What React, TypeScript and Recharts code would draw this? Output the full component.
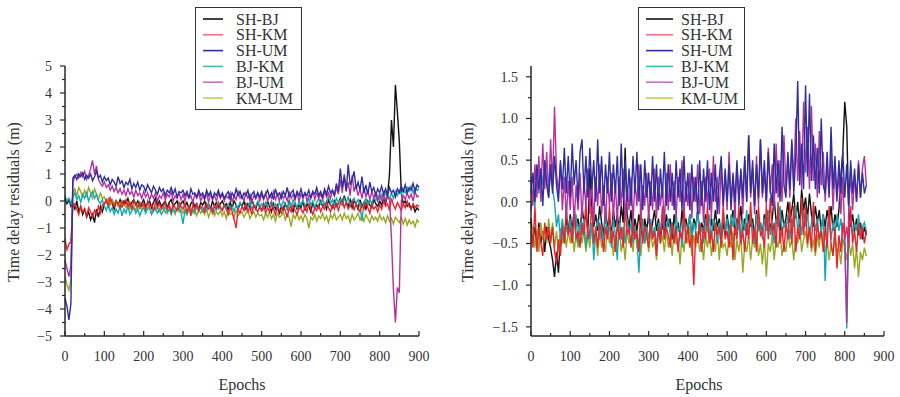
import { LineChart, Line, XAxis, YAxis } from "recharts"

// series names, legend order
const SERIES = ["SH-BJ", "SH-KM", "SH-UM", "BJ-KM", "BJ-UM", "KM-UM"]
const LINE_COLORS = ["#111111", "#e8242c", "#2e2e9e", "#14a8b4", "#b4329e", "#98a824"]
const LEGEND_COLORS = ["#111111", "#f07585", "#2e2e9e", "#3cc0b0", "#c070c0", "#c0d050"]
const DRAW_ORDER = ["SH-BJ", "KM-UM", "BJ-KM", "SH-KM", "BJ-UM", "SH-UM"]

const X_TICKS = [0, 50, 100, 150, 200, 250, 300, 350, 400, 450, 500, 550, 600, 650, 700, 750, 800, 850, 900]
const LEFT_Y_TICKS = [-5, -4.5, -4, -3.5, -3, -2.5, -2, -1.5, -1, -0.5, 0, 0.5, 1, 1.5, 2, 2.5, 3, 3.5, 4, 4.5, 5]
const RIGHT_Y_TICKS = [-1.5, -1.25, -1, -0.75, -0.5, -0.25, 0, 0.25, 0.5, 0.75, 1, 1.25, 1.5]

// left panel: one value every 5 epochs, 10 per line (50 epochs), 0..900
const L_SHBJ = [
  0.1, -0.1, 0.05, -0.2, -0.1, -0.3, 0.0, -0.4, -0.2, -0.5,
  -0.3, -0.6, -0.4, -0.7, -0.5, -0.8, -0.3, -0.6, -0.2, -0.4,
  -0.1, 0.0, -0.2, 0.1, -0.1, -0.3, 0.0, -0.15, 0.05, -0.2,
  0.0, -0.1, 0.1, -0.2, -0.05, 0.05, -0.15, 0.0, -0.25, -0.1,
  0.05, -0.2, -0.1, 0.0, -0.25, -0.05, 0.1, -0.15, 0.0, -0.2,
  -0.1, 0.0, -0.25, -0.05, 0.05, -0.2, -0.1, 0.0, -0.3, -0.1,
  0.0, -0.2, -0.05, -0.3, -0.1, 0.0, -0.2, -0.1, -0.35, -0.05,
  -0.15, 0.0, -0.25, -0.1, -0.3, 0.0, -0.2, -0.05, -0.25, -0.1,
  0.0, -0.2, -0.1, -0.35, -0.05, -0.25, 0.0, -0.15, -0.3, -0.1,
  -0.2, 0.0, -0.3, -0.1, -0.25, 0.05, -0.15, -0.3, -0.05, -0.2,
  -0.35, -0.1, -0.25, 0.0, -0.2, -0.4, -0.1, -0.3, -0.15, -0.45,
  -0.2, -0.35, -0.1, -0.3, 0.0, -0.25, -0.4, -0.1, -0.3, -0.15,
  -0.25, 0.0, -0.35, -0.1, -0.2, -0.4, -0.05, -0.3, -0.15, -0.25,
  0.0, -0.2, -0.1, -0.3, 0.05, -0.15, -0.25, 0.0, -0.2, -0.1,
  0.1, -0.15, 0.2, -0.05, -0.2, 0.05, -0.25, 0.0, -0.1, -0.3,
  0.05, -0.2, -0.05, -0.3, 0.0, -0.15, -0.25, 0.05, -0.1, -0.2,
  0.0, -0.15, 0.1, -0.1, 0.2, 1.0, 3.0, 2.0, 4.3, 3.3,
  2.2, 0.3, -0.1, 0.0, -0.2, -0.1, -0.3, -0.15, -0.4, -0.25,
  -0.35,
]
const L_SHKM = [
  -1.4, -1.8, -1.6, -1.5, -0.2, -0.1, -0.3, -0.5, -0.2, -0.4,
  -0.3, -0.55, -0.25, -0.4, -0.6, -0.35, -0.5, -0.2, -0.45, -0.15,
  -0.1, 0.05, -0.15, 0.1, -0.05, -0.2, 0.0, -0.1, -0.25, 0.0,
  -0.15, 0.05, -0.2, -0.05, -0.3, 0.0, -0.1, -0.25, -0.05, -0.2,
  -0.1, -0.3, 0.0, -0.2, -0.15, -0.35, -0.05, -0.25, -0.1, -0.3,
  -0.2, -0.05, -0.3, -0.15, -0.4, -0.1, -0.25, -0.35, -0.05, -0.2,
  -0.3, -0.1, -0.4, -0.2, -0.55, -0.15, -0.3, -0.1, -0.35, -0.2,
  -0.25, -0.4, -0.1, -0.3, -0.2, -0.45, -0.15, -0.3, -0.05, -0.25,
  -0.35, -0.15, -0.3, -0.5, -0.2, -0.4, -0.7, -1.0, -0.3, -0.45,
  -0.2, -0.35, -0.1, -0.4, -0.25, -0.5, -0.15, -0.3, -0.4, -0.2,
  -0.35, -0.15, -0.45, -0.25, -0.4, -0.1, -0.3, -0.5, -0.2, -0.35,
  -0.45, -0.2, -0.35, -0.6, -0.25, -0.4, -0.15, -0.35, -0.5, -0.25,
  -0.3, -0.45, -0.2, -0.4, -0.1, -0.3, -0.5, -0.25, -0.35, -0.15,
  -0.4, -0.2, -0.3, -0.05, -0.25, -0.4, -0.15, -0.3, -0.1, -0.35,
  -0.1, 0.05, -0.25, -0.05, -0.3, -0.15, 0.0, -0.35, -0.1, -0.25,
  -0.4, -0.15, -0.3, -0.05, -0.25, -0.45, -0.1, -0.3, -0.2, -0.4,
  -0.15, -0.3, 0.0, -0.2, -0.1, -0.35, 0.1, -0.15, -0.3, -0.05,
  -0.2, -0.35, -0.1, -0.25, 0.0, -0.2, -0.3, -0.1, -0.25, -0.15,
  -0.2,
]
const L_SHUM = [
  -3.6, -3.9, -4.4, -3.8, 0.85, 0.95, 0.8, 1.0, 0.9, 1.05,
  0.8, 0.95, 0.85, 1.0, 0.75, 0.9, 1.1, 0.85, 0.95, 0.7,
  0.9, 0.75, 0.85, 0.6, 0.8, 0.7, 0.55, 0.9, 0.65, 0.75,
  0.5, 0.7, 0.6, 0.8, 0.45, 0.65, 0.5, 0.7, 0.4, 0.6,
  0.55, 0.35, 0.6, 0.45, 0.3, 0.55, 0.4, 0.25, 0.5, 0.35,
  0.45, 0.2, 0.4, 0.3, 0.5, 0.25, 0.45, 0.15, 0.35, 0.3,
  0.4, 0.2, 0.35, 0.1, 0.45, 0.25, 0.3, 0.15, 0.4, 0.2,
  0.3, 0.1, 0.4, 0.2, 0.35, 0.05, 0.3, 0.2, 0.4, 0.15,
  0.3, 0.1, 0.25, 0.35, 0.05, 0.3, 0.15, 0.45, 0.2, 0.35,
  0.1, 0.3, 0.2, 0.4, 0.05, 0.25, 0.35, 0.1, 0.3, 0.15,
  0.35, 0.1, 0.25, 0.4, 0.15, 0.3, 0.05, 0.45, 0.2, 0.3,
  0.1, 0.35, 0.2, 0.5, 0.15, 0.3, 0.4, 0.1, 0.35, 0.2,
  0.45, 0.15, 0.3, 0.2, 0.4, 0.1, 0.35, 0.25, 0.5, 0.2,
  0.35, 0.15, 0.45, 0.25, 0.55, 0.3, 0.4, 0.2, 0.65, 0.35,
  1.2, 0.5, 0.9, 0.35, 1.35, 0.6, 0.8, 1.1, 0.45, 0.7,
  0.4, 0.9, 0.3, 0.6, 0.25, 0.7, 0.35, 0.5, 0.2, 0.45,
  0.3, 0.55, 0.25, 0.45, 0.2, 0.5, 0.3, 0.4, 0.15, 0.45,
  0.3, 0.55, 0.35, 0.6, 0.3, 0.5, 0.4, 0.65, 0.35, 0.6,
  0.5,
]
const L_BJKM = [
  0.2, 0.0, 0.1, -0.1, 0.15, 0.3, 0.05, 0.2, -0.05, 0.25,
  0.1, 0.3, 0.0, 0.2, 0.35, 0.1, 0.25, 0.0, -0.1, 0.05,
  -0.2, -0.35, -0.1, -0.4, -0.25, -0.5, -0.3, -0.45, -0.2, -0.55,
  -0.3, -0.45, -0.2, -0.5, -0.35, -0.25, -0.45, -0.3, -0.55, -0.35,
  -0.25, -0.45, -0.3, -0.2, -0.5, -0.35, -0.25, -0.45, -0.3, -0.5,
  -0.35, -0.2, -0.45, -0.3, -0.5, -0.25, -0.4, -0.3, -0.2, -0.45,
  -0.85, -0.35, -0.5, -0.25, -0.4, -0.3, -0.45, -0.2, -0.35, -0.25,
  -0.4, -0.2, -0.35, -0.1, -0.3, -0.25, -0.4, -0.15, -0.3, -0.2,
  -0.35, -0.15, -0.25, -0.1, -0.3, -0.2, -0.4, -0.15, -0.25, -0.05,
  -0.2, -0.3, -0.1, -0.25, -0.05, -0.3, -0.15, -0.2, 0.0, -0.25,
  -0.1, -0.3, -0.05, -0.2, -0.15, 0.0, -0.25, -0.1, -0.3, -0.05,
  -0.2, 0.0, -0.15, -0.3, -0.05, -0.2, 0.05, -0.1, -0.25, 0.0,
  -0.15, 0.05, -0.2, -0.05, 0.1, -0.15, 0.0, -0.25, -0.05, 0.1,
  -0.1, 0.05, -0.2, 0.0, 0.15, -0.1, 0.05, -0.15, 0.1, -0.05,
  0.05, -0.15, 0.1, -0.05, 0.15, -0.2, 0.0, 0.1, -0.1, 0.05,
  -0.1, -0.75, -0.05, 0.1, -0.15, 0.05, -0.1, 0.15, 0.0, 0.2,
  0.05, 0.25, 0.1, 0.3, 0.15, 0.05, 0.3, 0.1, 0.35, 0.2,
  0.4, 0.25, 0.45, 0.3, 0.5, 0.35, 0.55, 0.3, 0.5, 0.4,
  0.45,
]
const L_BJUM = [
  -2.2, -2.5, -2.8, -2.4, 0.7, 0.9, 1.0, 0.85, 1.05, 0.9,
  1.1, 0.8, 0.95, 1.2, 1.5, 1.0, 1.3, 0.8, 0.65, 0.55,
  0.7, 0.5, 0.6, 0.4, 0.55, 0.35, 0.5, 0.3, 0.45, 0.25,
  0.4, 0.2, 0.45, 0.25, 0.35, 0.15, 0.4, 0.2, 0.3, 0.1,
  0.35, 0.15, 0.3, 0.05, 0.25, 0.1, 0.3, 0.0, 0.2, 0.1,
  0.3, 0.05, 0.25, 0.15, 0.35, 0.0, 0.2, 0.1, 0.3, 0.05,
  0.25, 0.0, 0.3, 0.1, 0.2, -0.05, 0.25, 0.1, 0.3, 0.0,
  0.2, 0.05, 0.3, -0.05, 0.25, 0.1, 0.2, 0.0, 0.3, 0.1,
  0.25, 0.0, 0.2, 0.1, 0.3, -0.05, 0.2, 0.05, 0.35, 0.1,
  0.2, 0.0, 0.3, 0.1, 0.25, -0.05, 0.2, 0.1, 0.3, 0.0,
  0.25, 0.05, 0.3, 0.0, 0.2, 0.1, 0.35, 0.05, 0.25, 0.0,
  0.3, 0.1, 0.2, 0.0, 0.35, 0.1, 0.25, 0.05, 0.3, 0.0,
  0.25, 0.1, 0.3, 0.0, 0.2, 0.15, 0.35, 0.05, 0.3, 0.1,
  0.25, 0.05, 0.35, 0.15, 0.3, 0.1, 0.4, 0.2, 0.5, 0.25,
  0.8, 0.3, 1.0, 0.4, 0.7, 0.2, 0.95, 0.35, 0.6, 0.2,
  0.45, 0.1, 0.5, 0.15, 0.4, 0.05, 0.35, 0.1, 0.3, 0.0,
  0.25, 0.05, 0.3, 0.0, 0.2, 0.1, -1.4, -3.3, -4.5, -3.2,
  -3.4, 0.0, 0.2, 0.05, 0.3, 0.1, 0.25, 0.0, 0.35, 0.15,
  0.2,
]
const L_KMUM = [
  -2.8, -3.1, -3.3, -2.9, 0.3, 0.45, 0.2, 0.5, 0.35, 0.15,
  0.4, 0.2, 0.5, 0.3, 0.1, 0.45, 0.25, 0.05, 0.3, 0.1,
  0.15, -0.05, 0.1, -0.15, 0.05, -0.1, 0.0, -0.2, -0.05, -0.15,
  -0.1, -0.25, -0.05, -0.3, -0.15, -0.2, -0.35, -0.1, -0.25, -0.3,
  -0.15, -0.35, -0.2, -0.3, -0.45, -0.25, -0.35, -0.2, -0.4, -0.3,
  -0.25, -0.45, -0.3, -0.2, -0.4, -0.35, -0.5, -0.25, -0.4, -0.3,
  -0.45, -0.3, -0.5, -0.35, -0.25, -0.45, -0.35, -0.55, -0.3, -0.45,
  -0.35, -0.5, -0.3, -0.6, -0.4, -0.3, -0.55, -0.4, -0.5, -0.35,
  -0.55, -0.4, -0.65, -0.35, -0.5, -0.45, -0.6, -0.35, -0.55, -0.45,
  -0.4, -0.6, -0.45, -0.35, -0.65, -0.5, -0.4, -0.6, -0.45, -0.55,
  -0.5, -0.7, -0.45, -0.6, -0.4, -0.65, -0.5, -0.75, -0.45, -0.6,
  -0.55, -0.4, -0.7, -0.5, -0.6, -0.95, -0.5, -0.65, -0.45, -0.7,
  -0.55, -0.75, -0.5, -0.65, -1.0, -0.6, -0.7, -0.5, -0.75, -0.55,
  -0.65, -0.45, -0.7, -0.55, -0.8, -0.5, -0.65, -0.45, -0.7, -0.6,
  -0.5, -0.7, -0.45, -0.65, -0.55, -0.8, -0.5, -0.7, -0.6, -0.45,
  -0.7, -0.55, -0.75, -0.5, -0.65, -0.8, -0.55, -0.7, -0.6, -0.75,
  -0.5, -0.7, -0.6, -0.8, -0.55, -0.75, -0.65, -0.85, -0.6, -0.7,
  -0.8, -0.6, -0.85, -0.65, -0.9, -0.7, -0.85, -0.75, -0.95, -0.7,
  -0.8,
]

// right panel: one value every 5 epochs, 10 per line, 0..855
const R_SHBJ = [
  -0.2, -0.45, -0.3, -0.55, -0.25, -0.5, -0.35, -0.6, -0.3, -0.45,
  -0.55, -0.7, -0.9, -0.6, -0.85, -0.4, -0.25, -0.45, -0.2, -0.35,
  -0.15, -0.35, -0.1, -0.3, -0.2, -0.4, -0.05, -0.25, -0.15, -0.35,
  0.4, -0.1, -0.3, -0.15, -0.35, -0.05, -0.25, -0.4, -0.1, -0.3,
  -0.2, -0.4, -0.1, -0.3, -0.15, -0.35, -0.05, -0.25, 0.65, -0.15,
  -0.3, -0.1, -0.4, -0.2, -0.35, -0.15, -0.3, -0.45, -0.2, -0.35,
  -0.15, -0.4, -0.25, -0.1, -0.35, -0.2, -0.45, -0.25, -0.4, -0.15,
  -0.3, -0.2, -0.45, -0.15, -0.35, -0.25, -0.4, -0.1, -0.3, -0.2,
  -0.35, -0.15, -0.45, -0.2, -0.3, -0.1, -0.4, -0.25, -0.35, -0.15,
  -0.3, -0.45, -0.2, -0.35, -0.1, -0.3, -0.2, -0.45, -0.25, -0.4,
  -0.15, -0.35, -0.25, -0.1, -0.4, -0.2, -0.3, -0.05, -0.35, -0.2,
  -0.4, -0.15, -0.3, -0.2, -0.45, -0.1, -0.35, -0.25, -0.4, -0.15,
  -0.3, -0.1, -0.35, -0.2, 0.05, -0.25, -0.15, -0.35, -0.1, -0.3,
  -0.2, 0.0, -0.25, -0.1, 0.1, -0.2, 0.0, -0.3, 0.15, -0.1,
  0.05, -0.2, 0.1, -0.15, -0.3, -0.05, -0.25, -0.1, -0.35, -0.15,
  -0.3, -0.1, -0.25, -0.05, -0.35, -0.15, -0.3, -0.1, 0.3, 0.6,
  1.2, 0.9, -0.1, -0.3, -0.15, -0.35, -0.2, -0.4, -0.25, -0.45,
  -0.3, -0.4,
]
const R_SHKM = [
  -0.35, -0.55, -0.05, -0.6, -0.3, -0.5, -0.65, -0.25, -0.45, -0.3,
  -0.5, -0.3, -0.6, -0.75, -0.45, -0.65, -0.3, -0.5, -0.05, -0.4,
  -0.3, -0.5, -0.05, -0.45, -0.35, -0.55, -0.25, -0.4, 0.0, -0.45,
  -0.35, -0.05, -0.5, -0.3, -0.55, -0.25, -0.4, -0.6, -0.3, -0.45,
  -0.05, -0.5, -0.35, -0.6, -0.25, -0.45, -0.3, -0.55, -0.05, -0.4,
  -0.3, -0.55, -0.25, -0.45, -0.35, -0.6, -0.05, -0.5, -0.3, -0.4,
  -0.55, -0.25, -0.45, -0.35, -0.65, -0.3, -0.5, -0.05, -0.45, -0.3,
  -0.4, -0.55, -0.25, -0.5, -0.3, -0.6, -0.35, -0.45, -0.05, -0.5,
  -0.3, -0.55, -0.4, -1.0, -0.35, -0.5, -0.25, -0.6, -0.3, -0.45,
  -0.05, -0.5, -0.35, -0.6, -0.25, -0.4, -0.3, -0.55, -0.05, -0.45,
  -0.35, -0.55, -0.25, -0.7, -0.3, -0.45, -0.05, -0.5, -0.35, -0.6,
  -0.25, -0.45, 0.0, -0.5, -0.3, -0.6, -0.05, -0.4, -0.35, -0.55,
  -0.05, -0.45, 0.05, -0.4, -0.25, -0.55, 0.0, -0.5, -0.3, -0.6,
  -0.25, -0.45, 0.0, -0.5, -0.05, -0.6, -0.3, -0.45, 0.05, -0.4,
  -0.05, -0.5, -0.3, -0.55, 0.0, -0.6, -0.25, -0.45, -0.35, -0.6,
  -0.3, -0.55, -0.05, -0.5, -0.65, -0.3, -0.8, -0.4, -0.6, -0.25,
  -0.45, -0.3, -0.55, -0.05, -0.5, -0.35, -0.6, -0.25, -0.45, -0.3,
  -0.5, -0.35,
]
const R_SHUM = [
  0.1, 0.35, 0.0, 0.45, 0.15, 0.4, -0.05, 0.5, 0.2, 0.05,
  0.45, 0.1, 0.55, 0.2, 0.0, 0.5, 0.15, 0.65, 0.1, 0.55,
  0.05, 0.7, 0.2, 0.5, 0.0, 0.6, 0.75, 0.1, 0.55, 0.05,
  0.65, 0.15, 0.5, 0.0, 0.75, 0.1, 0.55, -0.05, 0.45, 0.1,
  0.6, 0.0, 0.45, 0.1, 0.55, -0.05, 0.7, 0.05, 0.5, 0.0,
  0.4, -0.05, 0.55, 0.1, 0.6, 0.0, 0.45, -0.1, 0.5, 0.05,
  0.35, -0.05, 0.55, 0.0, 0.45, -0.1, 0.4, 0.05, 0.6, -0.05,
  0.45, 0.0, 0.35, -0.1, 0.5, 0.05, 0.4, -0.1, 0.55, 0.0,
  0.35, -0.1, 0.45, 0.0, 0.3, -0.15, 0.5, -0.05, 0.4, 0.0,
  0.5, -0.1, 0.35, 0.0, 0.45, -0.15, 0.3, 0.55, -0.05, 0.4,
  0.0, 0.45, -0.1, 0.35, 0.0, 0.5, -0.05, 0.4, 0.05, 0.55,
  0.0, 0.8, 0.1, 0.5, -0.05, 0.45, 0.05, 0.75, 0.1, 0.5,
  0.0, 0.6, 0.15, -0.05, 0.7, 0.1, 0.5, 0.0, 0.9, 0.2,
  0.05, 0.6, 0.15, 0.75, 0.1, 0.55, 1.45, 0.2, 0.7, 0.15,
  1.4, 0.3, 1.3, 0.25, 0.8, 0.15, 0.65, 0.1, 1.0, 0.2,
  0.1, 0.6, 0.05, 0.9, 0.15, 0.55, 0.0, 0.5, 0.1, 0.6,
  0.05, 0.45, -0.05, 0.5, 0.1, 0.4, 0.0, 0.45, 0.05, 0.35,
  0.1, 0.2,
]
const R_BJKM = [
  -0.1, 0.15, -0.05, 0.3, 0.1, 0.4, 0.2, 0.45, 0.25, 0.1,
  0.35, 0.15, 0.0, -0.3, -0.15, -0.45, -0.2, -0.5, -0.3, -0.4,
  -0.2, -0.45, -0.3, -0.15, -0.5, -0.25, -0.4, -0.2, -0.55, -0.3,
  -0.45, -0.25, -0.7, -0.35, -0.2, -0.45, -0.3, -0.5, -0.15, -0.4,
  -0.3, -0.55, -0.2, -0.4, -0.7, -0.25, -0.45, -0.3, -0.5, -0.2,
  -0.4, -0.25, -0.5, -0.3, -0.45, -0.85, -0.35, -0.2, -0.5, -0.3,
  -0.45, -0.2, -0.4, -0.3, -0.55, -0.25, -0.35, -0.15, -0.45, -0.3,
  -0.2, -0.4, -0.25, -0.5, -0.15, -0.35, -0.3, -0.55, -0.2, -0.4,
  -0.3, -0.15, -0.45, -0.25, -0.35, -0.1, -0.4, -0.3, -0.5, -0.2,
  -0.35, -0.15, -0.45, -0.2, -0.3, -0.5, -0.25, -0.4, -0.1, -0.35,
  -0.2, -0.45, -0.15, -0.3, -0.05, -0.4, -0.25, -0.5, -0.2, -0.35,
  -0.1, -0.4, -0.2, -0.3, -0.5, -0.15, -0.35, -0.25, -0.45, -0.2,
  -0.35, -0.1, -0.4, -0.25, -0.5, -0.2, -0.3, -0.05, -0.4, -0.25,
  -0.35, -0.15, -0.45, -0.2, -0.3, -0.05, -0.35, -0.2, -0.4, -0.1,
  -0.3, -0.15, -0.4, -0.25, -0.1, -0.35, -0.2, -0.45, -0.3, -0.15,
  -0.95, -0.3, -0.2, -0.45, -0.25, -0.4, -0.15, -0.35, -0.2, -0.45,
  -0.5, -1.52, -0.3, -0.2, -0.4, -0.25, -0.35, -0.15, -0.4, -0.3,
  -0.25, -0.35,
]
const R_BJUM = [
  0.3, -0.05, 0.45, 0.05, 0.55, 0.0, 0.7, 0.15, 0.6, 0.05,
  0.75, 0.2, 1.14, 0.35, 0.1, 0.45, -0.1, 0.3, -0.2, 0.25,
  -0.1, 0.3, -0.25, 0.2, -0.1, 0.35, -0.2, 0.25, -0.05, 0.4,
  -0.15, 0.25, -0.25, 0.3, -0.05, 0.45, -0.15, 0.2, -0.25, 0.3,
  -0.05, 0.35, -0.2, 0.25, -0.25, 0.3, -0.05, 0.4, -0.2, 0.2,
  -0.1, 0.3, -0.25, 0.25, -0.05, 0.45, -0.2, 0.2, -0.05, 0.35,
  -0.25, 0.25, -0.1, 0.4, -0.2, 0.3, -0.05, 0.2, -0.3, 0.35,
  -0.1, 0.45, -0.05, 0.25, -0.2, 0.3, 0.0, 0.5, -0.15, 0.25,
  -0.05, 0.35, -0.2, 0.3, 0.0, 0.45, -0.15, 0.25, -0.25, 0.3,
  -0.05, 0.4, -0.2, 0.55, 0.0, 0.3, -0.15, 0.45, -0.05, 0.35,
  -0.1, 0.6, 0.0, 0.3, -0.2, 0.45, 0.05, 0.35, -0.15, 0.5,
  0.0, 0.8, 0.05, 0.4, -0.15, 0.55, -0.05, 0.75, 0.05, 0.35,
  -0.05, 0.65, 0.1, 0.45, -0.1, 0.7, 0.05, 0.5, 0.0, 0.8,
  0.15, 0.55, 0.05, 0.7, 0.2, 1.0, 0.25, 0.85, 0.15, 1.2,
  0.35, 0.9, 0.15, 1.15, 0.25, 0.7, 0.05, 0.85, 0.2, 0.6,
  0.0, 0.45, 0.1, 0.6, -0.1, 0.4, 0.05, 0.35, -0.15, 0.3,
  -0.4, -1.45, -0.05, 0.35, -0.1, 0.3, 0.0, 0.5, 0.05, 0.4,
  0.55, 0.2,
]
const R_KMUM = [
  -0.5, -0.3, -0.55, -0.35, -0.6, -0.25, -0.45, -0.3, -0.5, -0.2,
  -0.45, -0.25, -0.55, -0.35, -0.6, -0.4, -0.5, -0.3, -0.55, -0.35,
  -0.5, -0.3, -0.6, -0.4, -0.55, -0.25, -0.5, -0.35, -0.6, -0.4,
  -0.55, -0.3, -0.5, -0.4, -0.65, -0.35, -0.55, -0.45, -0.6, -0.3,
  -0.5, -0.35, -0.65, -0.4, -0.55, -0.3, -0.6, -0.45, -0.7, -0.35,
  -0.5, -0.4, -0.6, -0.3, -0.55, -0.45, -0.65, -0.35, -0.5, -0.4,
  -0.6, -0.35, -0.55, -0.45, -0.7, -0.3, -0.5, -0.4, -0.6, -0.35,
  -0.55, -0.4, -0.65, -0.3, -0.5, -0.45, -0.75, -0.4, -0.6, -0.35,
  -0.5, -0.3, -0.65, -0.4, -0.55, -0.35, -0.6, -0.45, -0.7, -0.4,
  -0.55, -0.35, -0.65, -0.45, -0.6, -0.3, -0.7, -0.4, -0.55, -0.5,
  -0.65, -0.4, -0.55, -0.35, -0.7, -0.45, -0.6, -0.4, -0.85, -0.5,
  -0.6, -0.4, -0.7, -0.45, -0.55, -0.35, -0.65, -0.5, -0.75, -0.45,
  -0.9, -0.5, -0.6, -0.4, -0.7, -0.45, -0.55, -0.35, -0.65, -0.5,
  -0.6, -0.35, -0.55, -0.45, -0.7, -0.4, -0.5, -0.3, -0.6, -0.45,
  -0.35, -0.55, -0.3, -0.6, -0.45, -0.65, -0.4, -0.55, -0.3, -0.5,
  -0.6, -0.45, -0.7, -0.5, -0.65, -0.4, -0.6, -0.55, -0.75, -0.45,
  -0.55, -0.7, -0.45, -0.65, -0.5, -0.8, -0.55, -0.9, -0.6, -0.7,
  -0.55, -0.65,
]

const STEP = 5

function buildRows(cols: number[][]) {
  return cols[0].map((_, i) => {
    const row: Record<string, number> = { epoch: i * STEP }
    SERIES.forEach((name, k) => {
      row[name] = cols[k][i]
    })
    return row
  })
}

const leftData = buildRows([L_SHBJ, L_SHKM, L_SHUM, L_BJKM, L_BJUM, L_KMUM])
const rightData = buildRows([R_SHBJ, R_SHKM, R_SHUM, R_BJKM, R_BJUM, R_KMUM])

const INK = "#262626"
const FONT = '"Liberation Serif", "Times New Roman", serif'

const minus = (s: string) => s.replace("-", "\u2212")

function XTick(props: any) {
  const { x, y, payload } = props
  const v = payload.value
  const major = v % 100 === 0
  return (
    <g>
      <line x1={x} x2={x} y1={y} y2={y - (major ? 5 : 3)} stroke={INK} strokeWidth={1.2} />
      {major && (
        <text x={x} y={y + 25} textAnchor="middle" fontSize={14} fill="#333" fontFamily={FONT}>
          {v}
        </text>
      )}
    </g>
  )
}

function YTick(props: any) {
  const { x, y, payload, decimals, majorStep } = props
  const v = payload.value
  const major = Math.abs(v / majorStep - Math.round(v / majorStep)) < 1e-6
  return (
    <g>
      <line x1={x - (major ? 5 : 3)} x2={x} y1={y} y2={y} stroke={INK} strokeWidth={1.2} />
      {major && (
        <text x={x - 13} y={y + 4.8} textAnchor="end" fontSize={14} fill="#333" fontFamily={FONT}>
          {minus(v.toFixed(decimals))}
        </text>
      )}
    </g>
  )
}

function Panel({ data, yDomain, yTicks, decimals, majorStep, yWidth, right }: any) {
  return (
    <LineChart width={450} height={397} data={data} margin={{ top: 66, right, bottom: 0, left: 0 }}>
      <XAxis
        dataKey="epoch"
        type="number"
        domain={[0, 900]}
        ticks={X_TICKS}
        interval={0}
        height={61}
        tickSize={0}
        tickMargin={0}
        tickLine={false}
        axisLine={{ stroke: INK, strokeWidth: 1.5 }}
        tick={(p: any) => <XTick {...p} />}
      />
      <YAxis
        type="number"
        domain={yDomain}
        ticks={yTicks}
        interval={0}
        width={yWidth}
        allowDataOverflow
        tickSize={0}
        tickMargin={0}
        tickLine={false}
        axisLine={{ stroke: INK, strokeWidth: 1.5 }}
        tick={(p: any) => <YTick {...p} decimals={decimals} majorStep={majorStep} />}
      />
      {DRAW_ORDER.map((name) => (
        <Line
          key={name}
          type="linear"
          dataKey={name}
          stroke={LINE_COLORS[SERIES.indexOf(name)]}
          strokeWidth={1.4}
          dot={false}
          isAnimationActive={false}
        />
      ))}
    </LineChart>
  )
}

function Legend({ left, lineX1, lineX2, textX }: any) {
  return (
    <div
      style={{
        position: "absolute",
        left,
        top: 7,
        width: 107,
        height: 103,
        boxSizing: "border-box",
        border: "1.5px solid #333",
        background: "#fff",
      }}
    >
      <svg width={104} height={100} style={{ position: "absolute", left: 0, top: 0 }}>
        {SERIES.map((name, i) => {
          const cy = 11 + i * 15.8
          return (
            <g key={name}>
              <line x1={lineX1} x2={lineX2} y1={cy} y2={cy} stroke={LEGEND_COLORS[i]} strokeWidth={1.6} />
              <text x={textX} y={cy + 5.5} fontSize={16} fill="#333" fontFamily={FONT}>
                {name}
              </text>
            </g>
          )
        })}
      </svg>
    </div>
  )
}

export default function App() {
  return (
    <div
      style={{
        position: "absolute",
        left: 0,
        top: 0,
        width: 900,
        height: 397,
        background: "#fff",
        overflow: "hidden",
      }}
    >
      <div style={{ position: "absolute", left: 0, top: 0 }}>
        <Panel
          data={leftData}
          yDomain={[-5, 5]}
          yTicks={LEFT_Y_TICKS}
          decimals={0}
          majorStep={1}
          yWidth={65}
          right={31}
        />
      </div>
      <div style={{ position: "absolute", left: 450, top: 0 }}>
        <Panel
          data={rightData}
          yDomain={[-1.61, 1.63]}
          yTicks={RIGHT_Y_TICKS}
          decimals={1}
          majorStep={0.5}
          yWidth={81}
          right={16}
        />
      </div>
      <svg width={900} height={397} style={{ position: "absolute", left: 0, top: 0, pointerEvents: "none" }}>
        <text
          transform="translate(19 202) rotate(-90)"
          textAnchor="middle"
          fontSize={16}
          fill="#333"
          fontFamily={FONT}
        >
          Time delay residuals (m)
        </text>
        <text
          transform="translate(473 202) rotate(-90)"
          textAnchor="middle"
          fontSize={16}
          fill="#333"
          fontFamily={FONT}
        >
          Time delay residuals (m)
        </text>
        <text x={242} y={390} textAnchor="middle" fontSize={16} fill="#333" fontFamily={FONT}>
          Epochs
        </text>
        <text x={699} y={390} textAnchor="middle" fontSize={16} fill="#333" fontFamily={FONT}>
          Epochs
        </text>
      </svg>
      <Legend left={195} lineX1={7} lineX2={27} textX={40} />
      <Legend left={638} lineX1={7} lineX2={34} textX={42} />
    </div>
  )
}
